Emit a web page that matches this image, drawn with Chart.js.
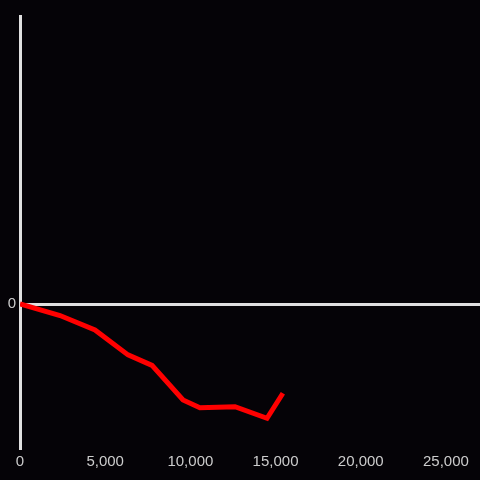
<!DOCTYPE html>
<html>
<head>
<meta charset="utf-8">
<script src="https://cdn.jsdelivr.net/npm/chart.js@4.4.0/dist/chart.umd.min.js"></script>
<style>
  html, body { margin: 0; padding: 0; background: #050307; }
  #wrap { width: 480px; height: 480px; }
</style>
</head>
<body>
<div id="wrap"><canvas id="chart" width="480" height="480"></canvas></div>
<script>
const xValues = [0, 2350, 4400, 6340, 7750, 9570, 10560, 12620, 14500, 15430];
const yValues = [0, -0.12, -0.27, -0.53, -0.64, -1.0, -1.08, -1.07, -1.19, -0.93];
const xTicks = [0, 5000, 10000, 15000, 20000, 25000];

const bgPlugin = {
    id: 'bg',
    beforeDraw(chart) {
        const c = chart.ctx;
        c.save();
        c.fillStyle = '#050307';
        c.fillRect(0, 0, chart.width, chart.height);
        c.restore();
    }
};

const points = xValues.map((x, i) => ({ x: x, y: yValues[i] }));

new Chart(document.getElementById('chart'), {
    type: 'line',
    data: {
        datasets: [{
            data: points,
            borderColor: '#ff0000',
            borderWidth: 5,
            pointRadius: 0,
            tension: 0,
            borderJoinStyle: 'miter'
        }]
    },
    options: {
        responsive: false,
        animation: false,
        layout: { padding: { top: 16, right: 0, bottom: 0, left: 0 } },
        plugins: { legend: { display: false }, tooltip: { enabled: false } },
        scales: {
            x: {
                type: 'linear',
                min: 0,
                max: 27000,
                grid: { display: false, drawTicks: false },
                border: { display: false },
                afterFit(scale) { scale.height = 32; },
                afterBuildTicks(scale) { scale.ticks = xTicks.map(v => ({ value: v })); },
                ticks: {
                    color: '#cccccc',
                    padding: 5,
                    maxRotation: 0,
                    font: { family: 'Liberation Sans', size: 15 },
                    callback: v => v.toLocaleString('en-US')
                }
            },
            y: {
                min: -1.5,
                max: 3,
                afterFit(scale) { scale.width = 20; },
                afterBuildTicks(scale) { scale.ticks = [{ value: 0 }]; },
                border: { display: true, color: '#e0e0e0', width: 3 },
                grid: {
                    drawTicks: false,
                    color: ctx => (ctx.tick && ctx.tick.value === 0) ? '#e0e0e0' : 'transparent',
                    lineWidth: 3
                },
                ticks: {
                    color: '#cccccc',
                    padding: 4,
                    font: { family: 'Liberation Sans', size: 15 },
                    callback: v => v === 0 ? '0' : ''
                }
            }
        }
    },
    plugins: [bgPlugin]
});
</script>
</body>
</html>
